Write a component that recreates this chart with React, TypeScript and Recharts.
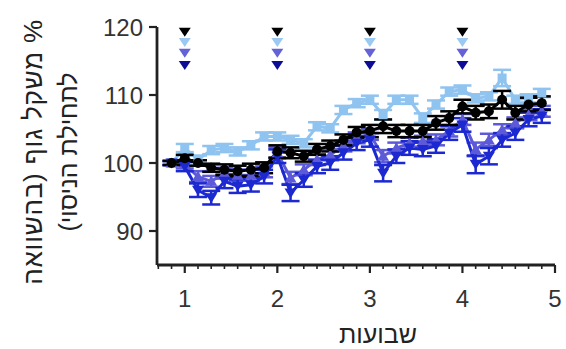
import React from 'react';
import { ComposedChart, Line, Scatter, XAxis, YAxis, ErrorBar } from 'recharts';

// days of the experiment (x is drawn in weeks = day / 7)
const days = [6, 7, 8, 9, 10, 11, 12, 13, 14, 15, 16, 17, 18, 19, 20, 21, 22, 23, 24, 25, 26, 27, 28, 29, 30, 31, 32, 33, 34];

const blackVals = [100, 100.7, 100, 99.3, 99, 98.8, 99, 99.3, 101.7, 101.5, 101, 102, 102.5, 103.4, 104.5, 104.7, 105.4, 104.7, 104.7, 104.7, 105.9, 106.6, 108.3, 107.4, 107.6, 109.3, 107.4, 108.6, 108.8];
const blackErr = [0.3, 0.5, 0.4, 0.6, 0.8, 0.8, 0.9, 0.8, 0.9, 0.8, 0.8, 0.8, 0.8, 0.8, 0.8, 0.9, 1, 0.9, 0.9, 0.9, 1, 1, 1, 1, 1, 1.3, 1, 1, 1];

const lightVals = [100, 102.2, 100.5, 101.9, 102.2, 101.7, 102.6, 103.9, 103.9, 103.4, 102.9, 105.4, 105.1, 107.8, 108.8, 109.3, 107.1, 109.3, 109.3, 106.6, 108.6, 110.5, 110.8, 109.5, 109.8, 112.5, 109.3, 109.5, 110.3];
const lightErr = [0.3, 0.6, 0.6, 0.6, 0.6, 0.6, 0.6, 0.6, 0.6, 0.6, 0.6, 0.6, 0.6, 0.6, 0.6, 0.6, 0.7, 0.6, 0.6, 0.7, 0.6, 0.6, 0.6, 0.6, 0.6, 1.2, 0.6, 0.6, 0.6];

const mediumVals = [100, 99.8, 98, 97.3, 98.5, 98.2, 98.2, 98.7, 101.5, 97.8, 99, 100.5, 101.2, 102.5, 103.7, 104.2, 101, 102.2, 102.9, 103.2, 103.4, 104.7, 106.4, 102, 103.4, 104.9, 105.9, 107.1, 107.6];
const mediumErr = [0.3, 0.6, 0.8, 0.8, 0.8, 0.8, 0.8, 0.8, 0.8, 0.9, 0.8, 0.8, 0.8, 0.8, 0.8, 0.8, 0.9, 0.8, 0.8, 0.8, 0.8, 0.8, 0.8, 1, 0.9, 0.8, 0.8, 0.8, 0.8];

const darkVals = [100, 99.5, 96, 94.9, 97.3, 96.6, 96.8, 98, 101, 95.6, 97.5, 99.5, 100, 101.5, 102.9, 103.4, 98.5, 101, 102.2, 102, 102.5, 104.4, 105.6, 99.8, 101, 103.4, 104.4, 106.4, 106.9];
const darkErr = [0.3, 0.7, 1, 1, 1, 1, 1, 1, 1, 1.2, 1, 1, 1, 1, 1, 1, 1.2, 1, 1, 1, 1, 1, 1, 1.3, 1.2, 1, 1, 1, 1];

// injection markers at the top of the plot
const markerWeeks = [1, 2, 3, 4];
const markerLevels = { black: 119.3, light: 117.8, medium: 116.2, dark: 114.4 };

const yTicks = [90, 100, 110, 120];
const xTickDays = [5, 6, 7, 8, 9, 10, 11, 12, 13, 14, 15, 16, 17, 18, 19, 20, 21, 22, 23, 24, 25, 26, 27, 28, 29, 30, 31, 32, 33, 34, 35];

const colors = {
  black: '#000000',
  light: '#8fc3f0',
  medium: '#5c5ad8',
  dark: '#1c28d0',
};
const markerColors = {
  black: '#000000',
  light: '#9cc9f2',
  medium: '#6462d6',
  dark: '#0c0c96',
};

const rows = days.map((d, i) => ({
  x: d / 7,
  black: blackVals[i],
  blackErr: blackErr[i],
  light: lightVals[i],
  lightErr: lightErr[i],
  medium: mediumVals[i],
  mediumErr: mediumErr[i],
  dark: darkVals[i],
  darkErr: darkErr[i],
}));

const markerData = (level: number) => markerWeeks.map((w) => ({ x: w, y: level }));

const FONT = '"Liberation Sans", Arial, sans-serif';

const square = (color: string) => (props: any) => {
  const { cx, cy, index } = props;
  if (cx == null || cy == null) return <g key={index} />;
  return <rect key={index} x={cx - 4.5} y={cy - 4.5} width={9} height={9} fill={color} />;
};
const circle = (color: string) => (props: any) => {
  const { cx, cy, index } = props;
  if (cx == null || cy == null) return <g key={index} />;
  return <circle key={index} cx={cx} cy={cy} r={5} fill={color} />;
};
const triUp = (color: string) => (props: any) => {
  const { cx, cy, index } = props;
  if (cx == null || cy == null) return <g key={index} />;
  return <polygon key={index} points={`${cx - 6},${cy + 4.5} ${cx + 6},${cy + 4.5} ${cx},${cy - 5.5}`} fill={color} />;
};
const triDown = (color: string) => (props: any) => {
  const { cx, cy, index } = props;
  if (cx == null || cy == null) return <g key={index} />;
  return <polygon key={index} points={`${cx - 6},${cy - 4.5} ${cx + 6},${cy - 4.5} ${cx},${cy + 5.5}`} fill={color} />;
};
const arrowShape = (color: string) => (props: any) => {
  const { cx, cy } = props;
  return <polygon points={`${cx - 6},${cy - 4} ${cx + 6},${cy - 4} ${cx},${cy + 5}`} fill={color} />;
};

const XTick = (props: any) => {
  const { x, y, payload } = props;
  const d = Math.round(payload.value * 7);
  const major = d % 7 === 0;
  return (
    <g>
      <line x1={x} x2={x} y1={y} y2={y + (major ? 8 : 4)} stroke="#222" strokeWidth={major ? 2.2 : 1.6} />
      {major && (
        <text x={x} y={y + 42} textAnchor="middle" fill="#333" fontSize={24} fontFamily={FONT}>
          {d / 7}
        </text>
      )}
    </g>
  );
};

const App = () => {
  return (
    <div style={{ position: 'relative', width: 566, height: 349, background: '#fff' }}>
      <style>{'body{margin:0;}'}</style>
      <ComposedChart
        width={566}
        height={349}
        data={rows}
        margin={{ top: 27, right: 11, bottom: 44, left: 97 }}
      >
        <XAxis
          dataKey="x"
          type="number"
          domain={[0.7, 5]}
          ticks={xTickDays.map((d) => d / 7)}
          interval={0}
          tickLine={false}
          tickSize={0}
          tickMargin={0}
          tick={<XTick />}
          height={40}
          axisLine={{ stroke: '#222', strokeWidth: 2.8 }}
          allowDataOverflow
        />
        <YAxis
          type="number"
          domain={[85, 120]}
          ticks={yTicks}
          width={60}
          tickSize={8}
          tickMargin={6}
          tickLine={{ stroke: '#222', strokeWidth: 2.2 }}
          axisLine={{ stroke: '#222', strokeWidth: 2.8 }}
          tick={{ fill: '#333', fontSize: 24, fontFamily: FONT }}
          allowDataOverflow
        />
        <Line
          dataKey="light"
          stroke={colors.light}
          strokeWidth={3}
          dot={square(colors.light)}
          isAnimationActive={false}
        >
          <ErrorBar dataKey="lightErr" width={9} stroke={colors.light} strokeWidth={2.5} direction="y" />
        </Line>
        <Line
          dataKey="medium"
          stroke={colors.medium}
          strokeWidth={3}
          dot={triUp(colors.medium)}
          isAnimationActive={false}
        >
          <ErrorBar dataKey="mediumErr" width={9} stroke={colors.medium} strokeWidth={2.5} direction="y" />
        </Line>
        <Line
          dataKey="dark"
          stroke={colors.dark}
          strokeWidth={3}
          dot={triDown(colors.dark)}
          isAnimationActive={false}
        >
          <ErrorBar dataKey="darkErr" width={9} stroke={colors.dark} strokeWidth={2.5} direction="y" />
        </Line>
        <Line
          dataKey="black"
          stroke={colors.black}
          strokeWidth={3}
          dot={circle(colors.black)}
          isAnimationActive={false}
        >
          <ErrorBar dataKey="blackErr" width={9} stroke={colors.black} strokeWidth={2.5} direction="y" />
        </Line>
        <Scatter data={markerData(markerLevels.black)} dataKey="y" shape={arrowShape(markerColors.black)} isAnimationActive={false} />
        <Scatter data={markerData(markerLevels.light)} dataKey="y" shape={arrowShape(markerColors.light)} isAnimationActive={false} />
        <Scatter data={markerData(markerLevels.medium)} dataKey="y" shape={arrowShape(markerColors.medium)} isAnimationActive={false} />
        <Scatter data={markerData(markerLevels.dark)} dataKey="y" shape={arrowShape(markerColors.dark)} isAnimationActive={false} />
      </ComposedChart>

      {/* y axis title, two rotated lines */}
      <div
        style={{
          position: 'absolute',
          left: 33,
          top: 152,
          transform: 'translate(-50%, -50%) rotate(-90deg)',
          whiteSpace: 'nowrap',
          direction: 'rtl',
          fontFamily: FONT,
          fontSize: 26,
          letterSpacing: 0.8,
          color: '#222',
          lineHeight: 1,
        }}
      >
        % משקל גוף (בהשוואה
      </div>
      <div
        style={{
          position: 'absolute',
          left: 68,
          top: 152,
          transform: 'translate(-50%, -50%) rotate(-90deg)',
          whiteSpace: 'nowrap',
          direction: 'rtl',
          fontFamily: FONT,
          fontSize: 25,
          color: '#222',
          lineHeight: 1,
        }}
      >
        לתחילת הניסוי)
      </div>

      {/* x axis title */}
      <div
        style={{
          position: 'absolute',
          left: 378,
          top: 334,
          transform: 'translate(-50%, -50%)',
          whiteSpace: 'nowrap',
          direction: 'rtl',
          fontFamily: FONT,
          fontSize: 25,
          color: '#222',
          lineHeight: 1,
        }}
      >
        שבועות
      </div>
    </div>
  );
};

export default App;
